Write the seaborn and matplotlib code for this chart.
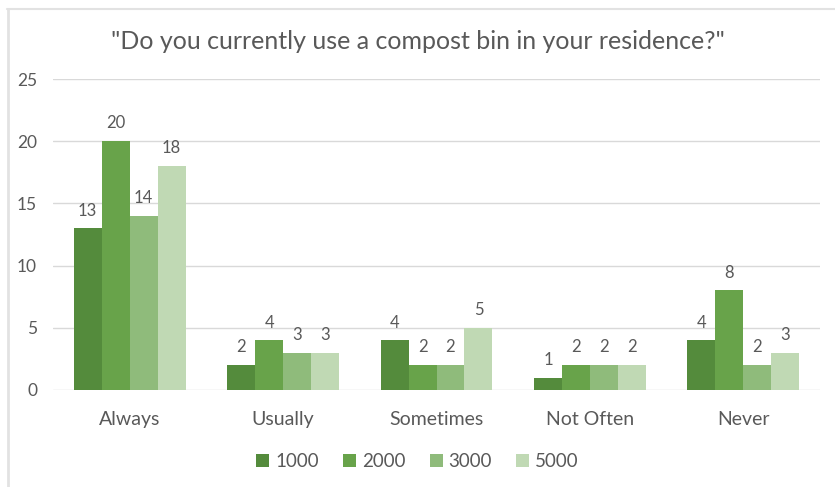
import matplotlib
matplotlib.use("Agg")
import matplotlib.pyplot as plt
from matplotlib.patches import Patch
from matplotlib.lines import Line2D
import seaborn as sns
import pandas as pd

categories = ["Always", "Usually", "Sometimes", "Not Often", "Never"]
series = ["1000", "2000", "3000", "5000"]
values_1000 = [13, 2, 4, 1, 4]
values_2000 = [20, 4, 2, 2, 8]
values_3000 = [14, 3, 2, 2, 2]
values_5000 = [18, 3, 5, 2, 3]
y_ticks = [0, 5, 10, 15, 20, 25]
colors = ["#548b3c", "#68a34a", "#8fbb7b", "#c0d9b4"]

rows = []
for name, vals in zip(series, [values_1000, values_2000, values_3000, values_5000]):
    for cat, v in zip(categories, vals):
        rows.append({"Response": cat, "Series": name, "Count": v})
df = pd.DataFrame(rows)

sns.set_theme(style="white")
plt.rcParams["font.family"] = ["Lato", "DejaVu Sans"]

text_gray = "#595959"
grid_gray = "#d9d9d9"

fig = plt.figure(figsize=(8.35, 4.87), dpi=100)
ax = fig.add_axes([53 / 835, 97 / 487, 767 / 835, 311 / 487])

sns.barplot(data=df, x="Response", y="Count", hue="Series", order=categories,
            hue_order=series, palette=colors, width=0.73, saturation=1,
            edgecolor="none", linewidth=0, ax=ax, legend=False)

for container in ax.containers:
    ax.bar_label(container, padding=7, fontsize=12, color=text_gray)

ax.set_ylim(0, 25)
ax.set_xlim(-0.5, len(categories) - 0.5)
ax.set_yticks(y_ticks)
ax.yaxis.grid(True, color=grid_gray, linewidth=1)
ax.set_axisbelow(True)
for s in ax.spines.values():
    s.set_visible(False)
ax.set_xlabel("")
ax.set_ylabel("")
ax.tick_params(axis="both", length=0, colors=text_gray)
ax.tick_params(axis="x", labelsize=14, pad=15)
ax.tick_params(axis="y", labelsize=12.5, pad=11.5)

fig.text(0.5, 0.915, '"Do you currently use a compost bin in your residence?"',
         ha="center", va="center", fontsize=18, color=text_gray)

handles = [Patch(facecolor=c, edgecolor="none") for c in colors]
fig.legend(handles, series, loc="center", bbox_to_anchor=(0.5, 0.052), ncol=4,
           frameon=False, fontsize=13.5, handlelength=0.7, handleheight=0.7,
           handletextpad=0.3, columnspacing=1.3, labelcolor=text_gray)

# chart frame edges
fig.add_artist(Line2D([7 / 835, 1.0], [1 - 9 / 487, 1 - 9 / 487],
                      color="#e2e2e2", linewidth=1.5))
fig.add_artist(Line2D([8 / 835, 8 / 835], [0, 1 - 9 / 487],
                      color="#e2e2e2", linewidth=2))

fig.savefig("out.png", dpi=100)
